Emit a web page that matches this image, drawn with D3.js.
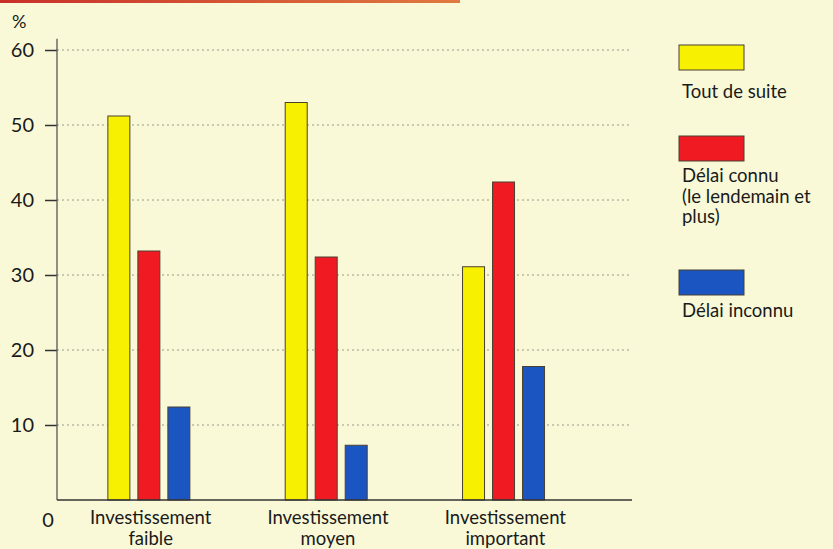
<!DOCTYPE html>
<html>
<head>
<meta charset="utf-8">
<script src="https://cdn.jsdelivr.net/npm/d3@7"></script>
<style>
  html, body { margin: 0; padding: 0; background: #f9f9d8; }
  svg { display: block; }
  text { font-family: Lato, "Noto Sans", sans-serif; fill: #1a1a1a; }
</style>
</head>
<body>
<svg id="chart" width="833" height="549"></svg>
<script>
// Share of respondents (%) by investment level and timing
const categories = [["Investissement", "faible"], ["Investissement", "moyen"], ["Investissement", "important"]];
const seriesNames = ["Tout de suite", "Délai connu", "Délai inconnu"];
const toutDeSuite = [51.2, 53.0, 31.1];
const delaiConnu = [33.2, 32.4, 42.4];
const delaiInconnu = [12.4, 7.3, 17.8];
const yTicks = [10, 20, 30, 40, 50, 60];
const legendLabels = [["Tout de suite"], ["Délai connu", "(le lendemain et", "plus)"], ["Délai inconnu"]];
const colors = ["#f7f000", "#f01a22", "#1a55c2"];

const values = [toutDeSuite, delaiConnu, delaiInconnu];
const svg = d3.select("#chart");

// header rule
const grad = svg.append("defs").append("linearGradient").attr("id", "rule");
grad.append("stop").attr("offset", "0%").attr("stop-color", "#c8302a");
grad.append("stop").attr("offset", "100%").attr("stop-color", "#e07a40");
svg.append("rect").attr("x", 0).attr("y", 0).attr("width", 460).attr("height", 3).attr("fill", "url(#rule)");

const axisX = 57, gridEnd = 632;
const y = d3.scaleLinear().domain([0, 60]).range([500, 50]);
const x = d3.scaleBand().domain(d3.range(categories.length)).range([60, 592]);
const inner = d3.scaleBand().domain(d3.range(seriesNames.length)).range([-40.8, 41.2]).paddingInner(8 / 30);

// dotted gridlines
svg.append("g").selectAll("line").data(yTicks).join("line")
  .attr("x1", axisX).attr("x2", gridEnd)
  .attr("y1", d => y(d)).attr("y2", d => y(d))
  .attr("stroke", "#9a9a8a").attr("stroke-width", 1).attr("stroke-dasharray", "2,3");

// y axis
const yAxis = d3.axisLeft(y).tickValues(yTicks).tickSize(12).tickPadding(11);
const gy = svg.append("g").attr("transform", `translate(${axisX},0)`).call(yAxis);
gy.select(".domain").remove();
gy.selectAll(".tick line").attr("stroke", "#333").attr("stroke-width", 1.5).attr("x1", 0);
gy.selectAll(".tick text").attr("font-size", 20).attr("fill", "#1a1a1a")
  .attr("font-family", "Lato, 'Noto Sans', sans-serif");
svg.append("line").attr("x1", axisX).attr("x2", axisX).attr("y1", y(61.5)).attr("y2", y(0))
  .attr("stroke", "#555").attr("stroke-width", 1.3);

svg.append("text").attr("x", 12).attr("y", 28).attr("font-size", 18).text("%");
svg.append("text").attr("x", 48).attr("y", 527).attr("font-size", 20).attr("text-anchor", "middle").text("0");

// bars
const groups = svg.append("g").selectAll("g").data(categories).join("g")
  .attr("transform", (d, i) => `translate(${x(i) + x.bandwidth() / 2},0)`);
groups.selectAll("rect").data((d, i) => values.map((s, j) => ({ v: s[i], j }))).join("rect")
  .attr("x", d => inner(d.j))
  .attr("width", inner.bandwidth())
  .attr("y", d => y(d.v))
  .attr("height", d => y(0) - y(d.v))
  .attr("fill", d => colors[d.j])
  .attr("stroke", "#4a4030").attr("stroke-width", 1);

// baseline
svg.append("line").attr("x1", axisX).attr("x2", gridEnd).attr("y1", y(0)).attr("y2", y(0))
  .attr("stroke", "#333").attr("stroke-width", 1.5);

// category labels
groups.append("text").attr("text-anchor", "middle").attr("font-size", 18.5)
  .selectAll("tspan").data(d => d).join("tspan")
  .attr("x", 2).attr("y", (d, k) => 524 + k * 20.5).text(d => d);

// legend
const legendY = [45, 136, 270];
const legendTextDy = [53, 46, 47];
const lg = svg.append("g").selectAll("g").data(seriesNames).join("g")
  .attr("transform", (d, i) => `translate(679,${legendY[i]})`);
lg.append("rect").attr("width", 65).attr("height", 25)
  .attr("fill", (d, i) => colors[i]).attr("stroke", "#4a4030").attr("stroke-width", 1);
lg.append("text").attr("font-size", 18.5)
  .each(function (d, i) {
    d3.select(this).selectAll("tspan").data(legendLabels[i]).join("tspan")
      .attr("x", 3).attr("y", (t, k) => legendTextDy[i] + k * 20.5).text(t => t);
  });
</script>
</body>
</html>
